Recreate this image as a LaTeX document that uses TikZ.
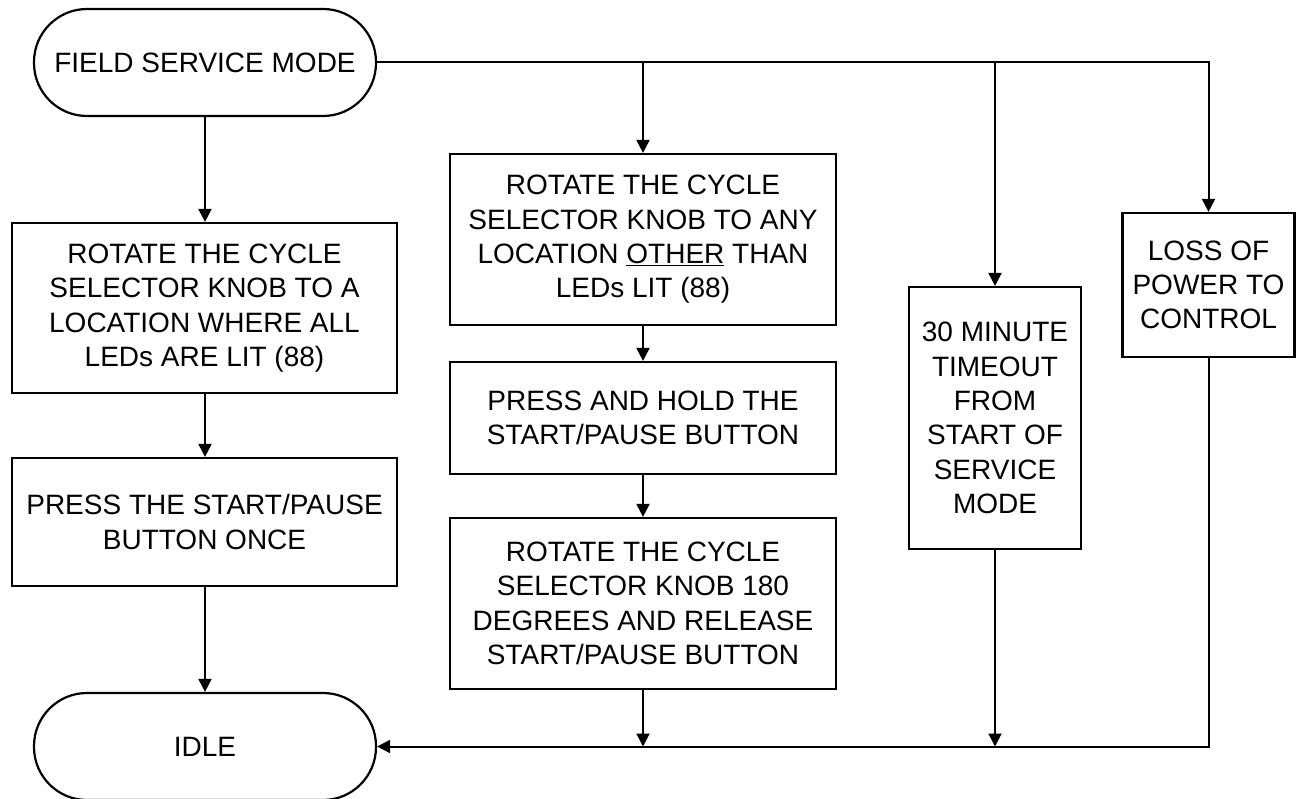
\documentclass[tikz,border=0pt]{standalone}
\usepackage{fontspec}
\setmainfont{Liberation Sans}
\usetikzlibrary{arrows.meta}
\begin{document}
\begin{tikzpicture}[x=1pt,y=-1pt,
    box/.style={draw, line width=2.2pt, align=center, inner sep=0pt, font=\fontsize{28}{34.3}\selectfont},
    term/.style={box, rounded corners=53pt, minimum width=342pt, minimum height=107pt},
    flow/.style={line width=2pt, -{Triangle[length=13pt,width=13pt]}}]
    \useasboundingbox (0,0) rectangle (1296,799);
    \node[term] (fsm) at (205,62.5) {FIELD SERVICE MODE};
    \node[term] (idle) at (205,746.5) {IDLE};
    \node[box, minimum width=385pt, minimum height=170pt] (rot1) at (204.5,308) {ROTATE THE CYCLE\\SELECTOR KNOB TO A\\LOCATION WHERE ALL\\LEDs ARE LIT (88)};
    \node[box, minimum width=385pt, minimum height=128pt] (press1) at (204.5,522) {PRESS THE START/PAUSE\\BUTTON ONCE};
    \node[box, minimum width=386pt, minimum height=171pt] (rot2) at (643,239.5) {ROTATE THE CYCLE\\SELECTOR KNOB TO ANY\\LOCATION \underline{OTHER} THAN\\LEDs LIT (88)};
    \node[box, minimum width=386pt, minimum height=112pt] (hold) at (643,418) {PRESS AND HOLD THE\\START/PAUSE BUTTON};
    \node[box, minimum width=386pt, minimum height=171pt] (rot3) at (643,603.5) {ROTATE THE CYCLE\\SELECTOR KNOB 180\\DEGREES AND RELEASE\\START/PAUSE BUTTON};
    \node[box, minimum width=172pt, minimum height=262pt] (timeout) at (995,418) {30 MINUTE\\TIMEOUT\\FROM\\START OF\\SERVICE\\MODE};
    \node[box, minimum width=172pt, minimum height=144pt] (loss) at (1208.5,285) {LOSS OF\\POWER TO\\CONTROL};
    % left column
    \draw[flow] (fsm.south) -- (fsm.south |- rot1.north);
    \draw[flow] (rot1.south -| fsm.south) -- (press1.north -| fsm.south);
    \draw[flow] (press1.south -| fsm.south) -- (idle.north);
    % middle column
    \draw[flow] (rot2) -- (hold);
    \draw[flow] (hold) -- (rot3);
    % branches off the top and into the bottom
    \draw[flow] (fsm.east) -| (loss.north);
    \foreach \n in {rot2,timeout} \draw[flow] (fsm.east -| \n.north) -- (\n.north);
    \foreach \n in {rot3,timeout} \draw[flow] (\n.south) -- (\n.south |- idle.east);
    \draw[flow] (loss.south) |- (idle.east);
\end{tikzpicture}
\end{document}
